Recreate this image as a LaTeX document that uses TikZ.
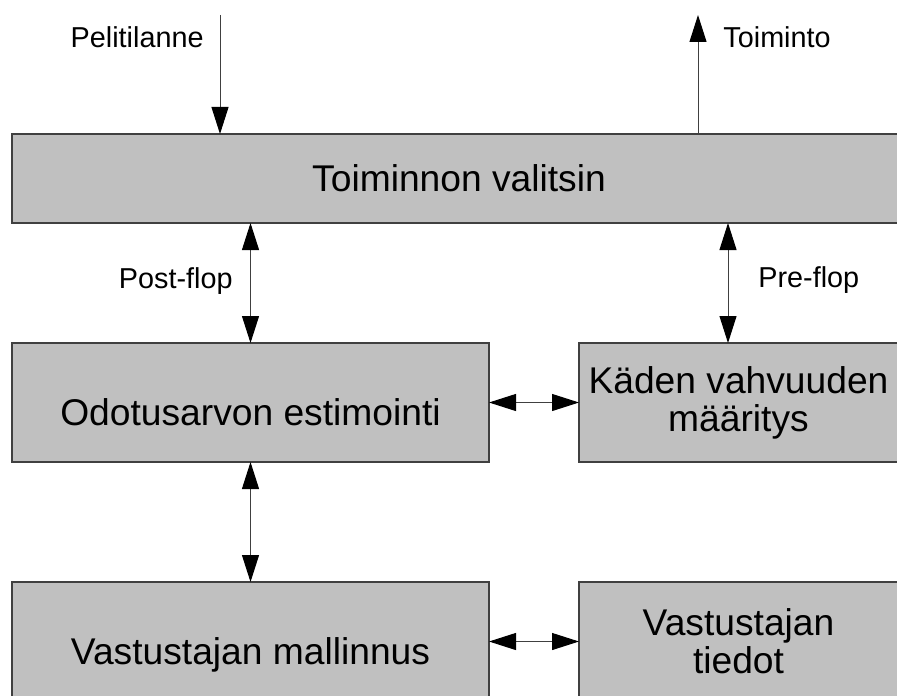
\documentclass[tikz,border=0pt]{standalone}
\usepackage{fontspec}
\setmainfont{Liberation Sans}
\usepackage{xcolor}
\usetikzlibrary{arrows.meta,positioning}
\definecolor{boxgray}{RGB}{192,192,192}
\definecolor{linegray}{RGB}{64,64,64}
\tikzset{
  blk/.style={draw=linegray,fill=boxgray,line width=0.6pt,inner sep=0pt,outer sep=0pt,
    align=center,font=\fontsize{18.6pt}{19pt}\selectfont},
  oneline/.style={text height=22.5pt,text depth=0pt},
  lbl/.style={inner sep=0pt,font=\fontsize{14.4pt}{17pt}\selectfont},
  flow/.style={draw=linegray,line width=0.5pt},
  tip/.tip={Triangle[length=13.5pt,width=8.5pt,color=black]}
}

\begin{document}
\begin{tikzpicture}[x=0.5pt,y=-0.5pt]
\useasboundingbox (0,0) rectangle (897,695);
\clip (0,0) rectangle (897,695);

% the blocks
\node[blk,minimum width=447pt,minimum height=44.5pt] (valitsin) at (459,178.5) {Toiminnon valitsin};
\node[blk,oneline,minimum width=238.5pt,minimum height=59.5pt] (estim) at (250.5,402.5) {Odotusarvon estimointi};
\node[blk,minimum width=159.5pt,minimum height=59.5pt] (kaden) at (738.5,402.5) {Käden vahvuuden\\määritys};
\node[blk,oneline,minimum width=238.5pt,minimum height=59.5pt] (mall) at (250.5,641.5) {Vastustajan mallinnus};
\node[blk,minimum width=159.5pt,minimum height=59.5pt] (tiedot) at (738.5,641.5) {Vastustajan\\tiedot};

% input and output
\coordinate (in) at (220,15);
\coordinate (out) at (698,15);
\draw[flow,-tip] (in) -- (in |- valitsin.north);
\draw[flow,-tip] (out |- valitsin.north) -- (out);
\node[lbl,anchor=base east] (pel) at (204,48) {Pelitilanne};
\node[lbl,anchor=base west] (toim) at (723,48) {Toiminto};

% links between the blocks
\coordinate (pre) at ([xshift=-5.25pt]kaden.north);
\draw[flow,tip-tip] (estim.north |- valitsin.south) -- (estim.north);
\draw[flow,tip-tip] (pre |- valitsin.south) -- (pre);
\draw[flow,tip-tip] (estim.east) -- (kaden.west);
\draw[flow,tip-tip] (estim.south) -- (mall.north);
\draw[flow,tip-tip] (mall.east) -- (tiedot.west);
\node[lbl,anchor=base east] (post) at (233,288) {Post-flop};
\node[lbl,anchor=base west] (pref) at (758,287) {Pre-flop};

\end{tikzpicture}
\end{document}
